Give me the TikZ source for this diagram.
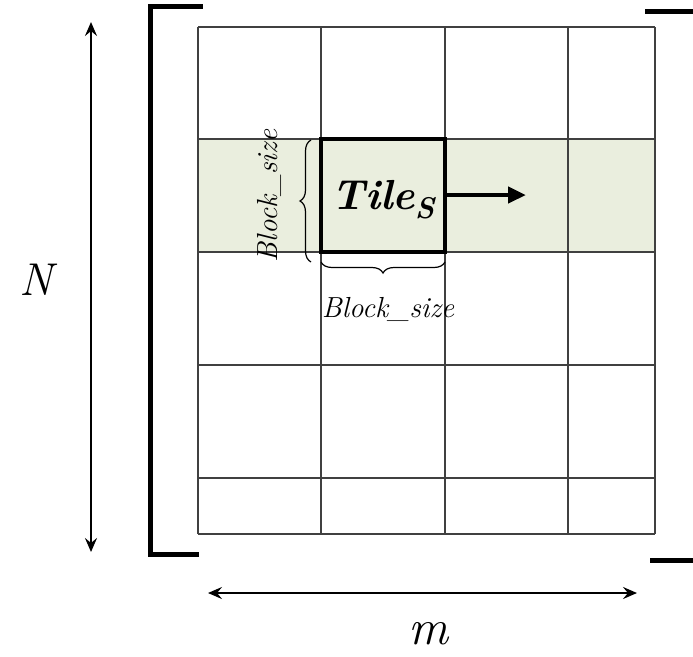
\documentclass[tikz,border=0pt]{standalone}
\usepackage{fontspec}
\usetikzlibrary{arrows.meta,decorations.pathreplacing}
\definecolor{band}{RGB}{234,238,222}
\tikzset{
  gridline/.style={line width=1.2pt, draw=black!75},
  bracketline/.style={line width=5pt, line cap=rect},
  dimarrow/.style={line width=2.2pt, {Stealth[length=14pt,width=12pt,inset=5pt]}-{Stealth[length=14pt,width=12pt,inset=5pt]}},
  tilebox/.style={draw, line width=4.5pt, minimum width=124pt, minimum height=113pt, inner sep=0pt},
  bracestyle/.style={line width=1.2pt, decorate, decoration={brace, amplitude=11pt}},
  dimlabel/.style={font=\fontsize{29}{33}\selectfont\itshape, inner sep=0pt}
}
\begin{document}
\begin{tikzpicture}[x=1pt,y=-1pt]
\useasboundingbox (0,0) rectangle (693,656);
% highlighted row
\fill[band] (198,139) rectangle (655,252);
% grid
\foreach \yy in {27,139,252,365,478,534} \draw[gridline] (198,\yy) -- (655,\yy);
\foreach \xx in {198,321,445,568,655} \draw[gridline] (\xx,27) -- (\xx,534);
% tile
\node[tilebox] (tile) at (383,195.5) {};
\node[font=\fontsize{42}{46}\selectfont\bfseries\itshape] (tiletext) at (383,200) {Tile\raisebox{-0.22em}{\fontsize{30}{34}\selectfont S}};
\coordinate (arrowend) at (526,195);
\draw[line width=4.5pt, -{Triangle[length=18pt,width=16pt]}] (tile.east |- arrowend) -- (arrowend);
% brackets
\draw[bracketline] (200,6) -- (150,6) -- (150,554) -- (196,554);
\draw[bracketline] (647,11) -- (705,11) -- (705,560) -- (652,560);
% dimension arrows
\coordinate (ntop) at (91,22);
\coordinate (nbot) at (91,552);
\draw[dimarrow] (nbot) -- (ntop);
\node[font=\fontsize{46}{50}\selectfont\itshape] (N) at (36,280) {N};
\coordinate (mleft) at (208,593);
\coordinate (mright) at (637,593);
\draw[dimarrow] (mleft) -- (mright);
\node[font=\fontsize{50}{54}\selectfont\itshape] (m) at (428,634) {m};
% braces
\coordinate (lbb) at (311,262);
\coordinate (lbt) at (311,140);
\draw[bracestyle] (lbb) -- (lbt);
\coordinate (bbl) at (321,262);
\coordinate (bbr) at (445,262);
\draw[bracestyle] (bbr) -- (bbl);
\node[dimlabel, rotate=90] (bsl) at (269,196) {Block\_size};
\node[dimlabel] (bsb) at (388,309) {Block\_size};
\end{tikzpicture}
\end{document}
